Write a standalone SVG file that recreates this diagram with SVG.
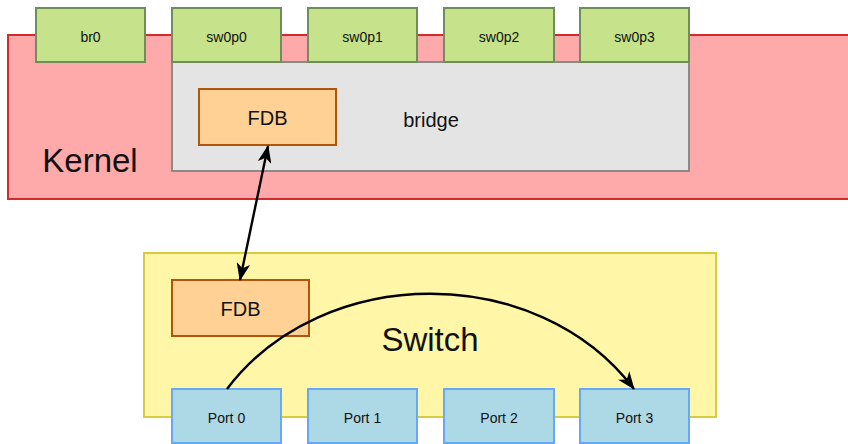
<svg xmlns="http://www.w3.org/2000/svg" width="848" height="444" viewBox="0 0 848 444">
<style>
text{font-family:"Liberation Sans",Arial,sans-serif;fill:#111;text-anchor:middle;dominant-baseline:central}
.kern{fill:#FFAAAA;stroke:#D42A2A;stroke-width:2}
.iface{fill:#C6E38B;stroke:#6F8F5A;stroke-width:2}
.bridge{fill:#E4E4E4;stroke:#8A8A8A;stroke-width:2}
.fdb{fill:#FFD194;stroke:#B0540E;stroke-width:2}
.sw{fill:#FFF6A8;stroke:#D9CC3C;stroke-width:2}
.port{fill:#ADD8E6;stroke:#66AAF5;stroke-width:2}
.conn{fill:none;stroke:#000;stroke-width:2.4}
.s{font-size:14px}
.m{font-size:20px}
.l{font-size:33px}
</style>
<defs>
<marker id="ah" viewBox="0 0 18 14" refX="17" refY="7" markerWidth="18" markerHeight="14" markerUnits="userSpaceOnUse" orient="auto-start-reverse">
<path d="M0,0 L18,7 L0,14 L5,7 Z" fill="#000"/>
</marker>
</defs>
<g id="kernel">
<rect class="kern" x="8" y="35" width="850" height="164"/>
<text class="l" x="90" y="160">Kernel</text>
</g>
<g id="bridge">
<rect class="bridge" x="172" y="62" width="517" height="109"/>
<text class="m" x="431" y="120">bridge</text>
</g>
<g id="br0"><rect class="iface" x="36" y="8" width="109" height="54"/><text class="s" x="90.5" y="37">br0</text></g>
<g id="sw0p0"><rect class="iface" x="172" y="8" width="109" height="54"/><text class="s" x="226.5" y="37">sw0p0</text></g>
<g id="sw0p1"><rect class="iface" x="308" y="8" width="109" height="54"/><text class="s" x="362.5" y="37">sw0p1</text></g>
<g id="sw0p2"><rect class="iface" x="444" y="8" width="110" height="54"/><text class="s" x="499" y="37">sw0p2</text></g>
<g id="sw0p3"><rect class="iface" x="580" y="8" width="109" height="54"/><text class="s" x="634.5" y="37">sw0p3</text></g>
<g id="kfdb"><rect class="fdb" x="199" y="89" width="137" height="56"/><text class="m" x="267.5" y="118">FDB</text></g>
<g id="switch">
<rect class="sw" x="144" y="253" width="572" height="164"/>
<text class="l" x="430" y="339">Switch</text>
</g>
<g id="sfdb"><rect class="fdb" x="172" y="280" width="137" height="56"/><text class="m" x="240.5" y="309">FDB</text></g>
<g id="port0"><rect class="port" x="172" y="389" width="109" height="54"/><text class="s" x="226.5" y="418">Port 0</text></g>
<g id="port1"><rect class="port" x="308" y="389" width="109" height="54"/><text class="s" x="362.5" y="418">Port 1</text></g>
<g id="port2"><rect class="port" x="444" y="389" width="110" height="54"/><text class="s" x="499" y="418">Port 2</text></g>
<g id="port3"><rect class="port" x="580" y="389" width="109" height="54"/><text class="s" x="634.5" y="418">Port 3</text></g>
<g id="connectors">
<path class="conn" d="M268,146 L240,280" marker-start="url(#ah)" marker-end="url(#ah)"/>
<path class="conn" d="M227,389 C323,262 538,262 634,389" marker-end="url(#ah)"/>
</g>
</svg>
